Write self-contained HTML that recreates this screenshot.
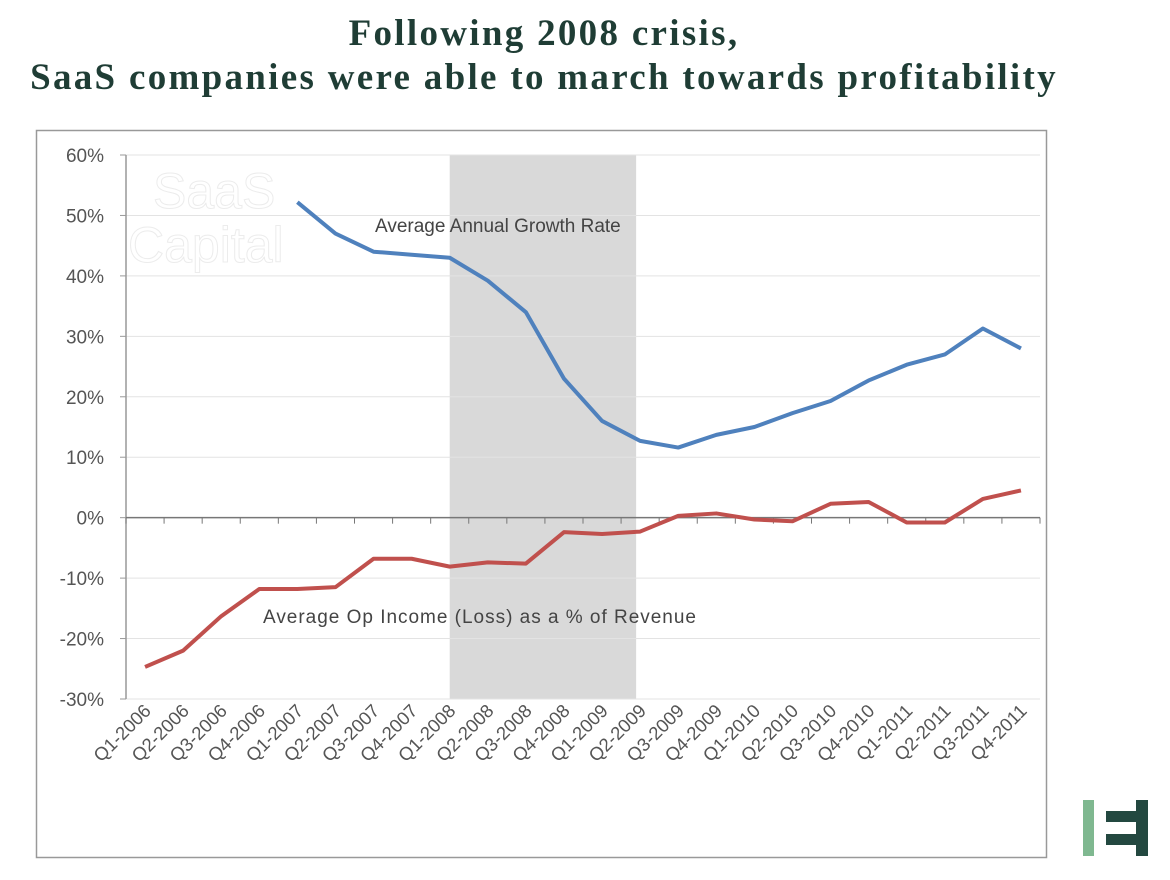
<!DOCTYPE html>
<html><head><meta charset="utf-8"><style>
body{margin:0;width:1170px;height:880px;background:#fff;overflow:hidden;position:relative;font-family:"Liberation Sans",sans-serif}
#title{position:absolute;left:0;width:1088px;top:12px;text-align:center;font-family:"Liberation Serif",serif;font-weight:bold;font-size:37px;letter-spacing:2.3px;line-height:44px;color:#1f3d35;white-space:nowrap}
</style></head><body>
<div id="title">Following 2008 crisis,<br>SaaS companies were able to march towards profitability</div>
<svg id="chart" width="1170" height="880" style="position:absolute;left:0;top:0"></svg>
<script>
const categories=["Q1-2006","Q2-2006","Q3-2006","Q4-2006","Q1-2007","Q2-2007","Q3-2007","Q4-2007","Q1-2008","Q2-2008","Q3-2008","Q4-2008","Q1-2009","Q2-2009","Q3-2009","Q4-2009","Q1-2010","Q2-2010","Q3-2010","Q4-2010","Q1-2011","Q2-2011","Q3-2011","Q4-2011"];
const growthRate=[null,null,null,null,52.2,47,44,43.5,43,39.2,34,23,16,12.7,11.6,13.7,15,17.3,19.3,22.7,25.3,27,31.3,28];
const opIncome=[-24.7,-22,-16.3,-11.8,-11.8,-11.5,-6.8,-6.8,-8.1,-7.4,-7.6,-2.4,-2.7,-2.3,0.3,0.7,-0.3,-0.6,2.3,2.6,-0.8,-0.8,3.1,4.5];
const yTicks=[60,50,40,30,20,10,0,-10,-20,-30];
const shadeRange=["Q1-2008","Q2-2009"];
const NS="http://www.w3.org/2000/svg",svg=document.getElementById('chart');
const X0=126,X1=1040,Y60=155,Y30=699;
const step=(X1-X0)/categories.length;
const x=i=>X0+step*(i+0.5);
const y=v=>Y60+(60-v)*(Y30-Y60)/90;
function el(t,a,p){const e=document.createElementNS(NS,t);for(const k in a)e.setAttribute(k,a[k]);(p||svg).appendChild(e);return e;}
const frame=el('rect',{x:36.5,y:130.5,width:1010,height:727,fill:'none',stroke:'#999','stroke-width':1.5});


const si=categories.indexOf(shadeRange[0]),ei=categories.indexOf(shadeRange[1]);
const shade=el('rect',{x:x(si),y:Y60,width:x(ei)-x(si)-4,height:Y30-Y60,fill:'#d9d9d9'});


yTicks.forEach(v=>{
 const g=el('line',{x1:X0,x2:X1,y1:y(v),y2:y(v),stroke:'#e3e3e3','stroke-width':1});
 
 
 el('line',{x1:X0-6,x2:X0,y1:y(v),y2:y(v),stroke:'#999'});
 const t=el('text',{x:104,y:y(v)+7,'text-anchor':'end','font-size':19,fill:'#555'});
 t.textContent=v+'%';
 
 
});
const wm=el('text',{x:153,y:208,'font-size':50,fill:'none',stroke:'#ececec','stroke-width':1});wm.textContent='SaaS';


const wm2=el('text',{x:128,y:262,'font-size':50,fill:'none',stroke:'#ececec','stroke-width':1});wm2.textContent='Capital';


el('line',{x1:X0,x2:X0,y1:Y60,y2:Y30,stroke:'#999','stroke-width':1.5});
const xa=el('line',{x1:X0,x2:X1,y1:y(0),y2:y(0),stroke:'#777','stroke-width':1.5});


for(let i=0;i<=categories.length;i++)el('line',{x1:X0+step*i,x2:X0+step*i,y1:y(0),y2:y(0)+6,stroke:'#777'});
categories.forEach((c,i)=>{
 const t=el('text',{x:x(i)+7,y:712,'text-anchor':'end','font-size':18.5,fill:'#555',transform:`rotate(-45 ${x(i)+7} 712)`});
 t.textContent=c;
 
 
});
function line(data,color,name){
 let d='';data.forEach((v,i)=>{if(v==null)return;d+=(d?'L':'M')+x(i)+','+y(v);});
 const p=el('path',{d,fill:'none',stroke:color,'stroke-width':4,'stroke-linejoin':'round'});
 
 
}
line(growthRate,'#4f81bd','growth-rate-line');
line(opIncome,'#c0504d','op-income-line');
const l1=el('text',{x:375,y:232,'font-size':19,fill:'#444'});l1.textContent='Average Annual Growth Rate';


const l2=el('text',{x:263,y:623,'font-size':19,fill:'#444',textLength:433});l2.textContent='Average Op Income (Loss) as a % of Revenue';


const lg=el('g',{});


el('rect',{x:1083,y:800,width:11,height:56,fill:'#7fb890'},lg);
el('rect',{x:1136,y:800,width:12,height:56,fill:'#234840'},lg);
el('rect',{x:1106,y:811,width:36,height:11,fill:'#234840'},lg);
el('rect',{x:1106,y:834,width:36,height:11,fill:'#234840'},lg);
</script>
</body></html>
